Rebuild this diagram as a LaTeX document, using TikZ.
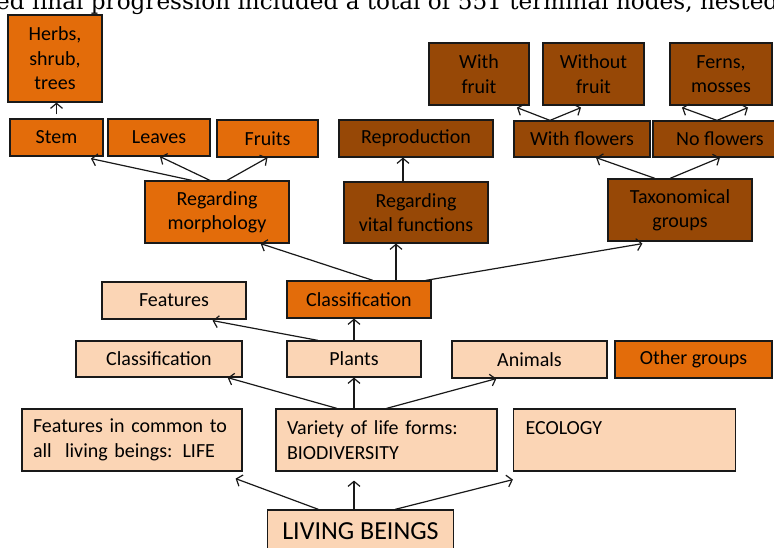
\documentclass[tikz,border=0pt]{standalone}
\usepackage{fontspec}
\setmainfont{Carlito}
\newfontfamily\serifhead{DejaVu Serif}
\usetikzlibrary{arrows.meta,calc}
\definecolor{darkor}{HTML}{E36C0A}
\definecolor{brownor}{HTML}{974806}
\definecolor{lightor}{HTML}{FBD5B5}
\tikzset{
  box/.style={draw=black!90, line width=1.2pt, rectangle, inner sep=0pt, align=center,
    font=\fontsize{20}{24.4}\selectfont},
  orbox/.style={box, fill=darkor},
  brbox/.style={box, fill=brownor},
  ltbox/.style={box, fill=lightor},
  lbox/.style={ltbox, align=left, inner xsep=11pt},
  conn/.style={line width=1.2pt, black!90, -{Straight Barb[length=5pt,width=12pt]}},
}
\begin{document}
\begin{tikzpicture}[x=1pt,y=-1pt]
\clip (0,0) rectangle (774,547);
\fill[white] (0,0) rectangle (774,547);
% cut-off line of text at the top
\node[anchor=base west, inner sep=0pt] (toptext) at (-4,9) {\resizebox{782pt}{!}{\serifhead ed final progression included a total of 551 terminal nodes, nested}};
% top level boxes
\node[orbox, minimum width=94pt, minimum height=87pt] (herbs) at (55,58.5) {Herbs,\\shrub,\\trees};
\node[orbox, minimum width=93pt, minimum height=37pt] (stem) at (56.5,137.5) {Stem};
\node[orbox, minimum width=102pt, minimum height=37pt] (leaves) at (159,137.5) {Leaves};
\node[orbox, minimum width=101pt, minimum height=37pt] (fruits) at (267.5,138.5) {Fruits};
\node[orbox, minimum width=144pt, minimum height=62pt] (morph) at (217,212) {Regarding\\morphology};
\node[brbox, minimum width=154pt, minimum height=37pt] (repro) at (416,138.5) {Reproduction};
\node[brbox, minimum width=144pt, minimum height=61pt] (vital) at (416,212.5) {Regarding\\vital functions};
\node[brbox, minimum width=100pt, minimum height=62pt] (withfruit) at (479,74) {With\\fruit};
\node[brbox, minimum width=101pt, minimum height=62pt] (withoutfruit) at (593.5,74) {Without\\fruit};
\node[brbox, minimum width=102pt, minimum height=62pt] (ferns) at (721,74) {Ferns,\\mosses};
\node[brbox, minimum width=136pt, minimum height=36pt] (withfl) at (582,139) {With flowers};
\node[brbox, minimum width=134pt, minimum height=36pt] (nofl) at (720,139) {No flowers};
\node[brbox, minimum width=144pt, minimum height=62pt] (taxo) at (680,210) {Taxonomical\\groups};
% middle
\node[ltbox, minimum width=144pt, minimum height=37pt] (features) at (174,300.5) {Features};
\node[orbox, minimum width=144pt, minimum height=37pt] (classO) at (359,299.5) {Classification};
\node[ltbox, minimum width=166pt, minimum height=36pt] (classL) at (159,359) {Classification};
\node[ltbox, minimum width=134pt, minimum height=36pt] (plants) at (354,359) {Plants};
\node[ltbox, minimum width=155pt, minimum height=37pt] (animals) at (529.5,359.5) {Animals};
\node[orbox, minimum width=157pt, minimum height=37pt] (other) at (693.5,359.5) {Other groups};
% lower
\node[lbox, text width=198pt, minimum height=62pt] (common) at (132,440) {Features in common to\\all\ \ living beings: LIFE};
\node[lbox, text width=199pt, minimum height=62pt] (variety) at (386.5,440) {Variety of life forms:\\BIODIVERSITY};
\node[lbox, text width=198pt, inner xsep=12pt, minimum height=62pt] (ecology) at (624.5,440) {ECOLOGY\\\mbox{}};
\node[ltbox, minimum width=186pt, minimum height=43pt, font=\fontsize{26}{30}\selectfont] (living) at (360.5,531.5) {LIVING BEINGS};
% connectors
\draw[conn] ($(living.north)+(-42,0)$) -- ($(common.south east)+(-7,7)$);
\draw[conn] ($(living.north)+(-6.5,0)$) -- ($(variety.south)+(-32.5,9)$);
\draw[conn] ($(living.north)+(34.5,0)$) -- ($(ecology.south west)+(0,8)$);
\draw[conn] ($(variety.north)+(-49.5,0)$) -- ($(classL.south east)+(-15,0)$);
\draw[conn] ($(variety.north)+(-32.5,0)$) -- (plants.south);
\draw[conn] (variety.north) -- ($(animals.south west)+(45,0)$);
\draw[conn] ($(plants.north)+(-36,0)$) -- ($(features.south east)+(-34,1)$);
\draw[conn] (plants.north) -- (plants.north |- classO.south);
\draw[conn] ($(classO.north)+(14,0)$) -- ($(morph.south east)+(-29,0)$);
\draw[conn] ($(classO.north)+(37,0)$) -- ($(vital.south)+(-20,0)$);
\draw[conn] ($(classO.north east)+(-6,0)$) -- ($(taxo.south west)+(35,2)$);
\draw[conn] ($(vital.north)+(-13,0)$) -- ($(repro.south)+(-13,0)$);
\draw[conn] ($(morph.north)+(-25,0)$) -- ($(stem.south)+(34.5,2)$);
\draw[conn] ($(morph.north)+(-7,0)$) -- ($(leaves.south)+(1,0)$);
\draw[conn] ($(morph.north)+(10,0)$) -- (fruits.south);
\draw[conn] ($(stem.north)+(0,-4)$) -- (herbs.south -| stem.north);
\draw[conn] ($(taxo.north)+(-25,0)$) -- ($(withfl.south)+(14,0)$);
\draw[conn] ($(taxo.north)+(-10,0)$) -- (nofl.south);
\draw[conn] ($(withfl.north)+(-32,0)$) -- ($(withfruit.south)+(38,2)$);
\draw[conn] ($(withfl.north)+(-32,0)$) -- ($(withoutfruit.south)+(-12.5,2)$);
\draw[conn] ($(nofl.north)+(-3,0)$) -- ($(ferns.south)+(-39,2)$);
\draw[conn] ($(nofl.north)+(-3,0)$) -- ($(ferns.south)+(27,2)$);
\end{tikzpicture}
\end{document}
